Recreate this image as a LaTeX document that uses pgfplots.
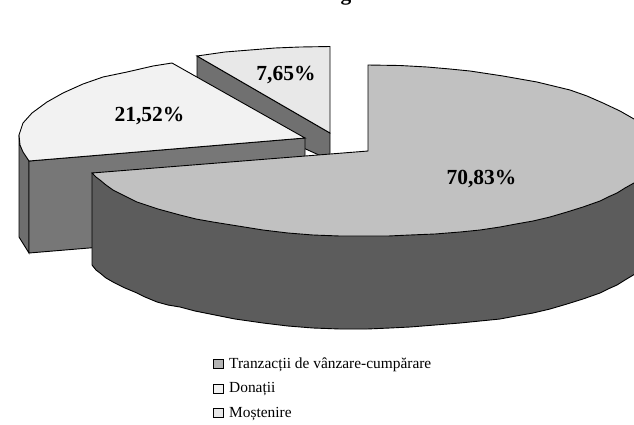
\documentclass[border=0pt]{standalone}
\usepackage{fontspec}
\setmainfont{Liberation Serif}
\usepackage{pgfplots}
\pgfplotsset{compat=1.18}
\definecolor{bigtop}{HTML}{C1C1C1}
\definecolor{bigside}{HTML}{5C5C5C}
\definecolor{dontop}{HTML}{F2F2F2}
\definecolor{donside}{HTML}{777777}
\definecolor{donouter}{HTML}{6E6E6E}
\definecolor{mostop}{HTML}{E8E8E8}
\definecolor{mosside}{HTML}{707070}
\definecolor{swa}{HTML}{B4B4B4}
\begin{document}
\begin{tikzpicture}
\begin{axis}[
  scale only axis, width=634pt, height=424pt,
  xmin=0, xmax=634, ymin=0, ymax=424, y dir=reverse,
  hide axis,
  legend cell align=left,
  legend style={at={(axis cs:213,357.5)}, anchor=north west, draw=none, fill=none,
    font=\fontsize{15.4}{17}\selectfont, row sep=12.8pt, column sep=6pt, inner sep=0pt, outer sep=0pt,
    nodes={inner sep=0pt, outer sep=0pt}},
  legend image code/.code={\draw[#1, line width=0.7pt] (0pt,-4.5pt) rectangle (9.5pt,4.5pt);},
  every axis plot/.append style={draw=black, line width=0.9pt, line join=miter},
]
\addlegendimage{fill=swa}
\addlegendentry{Tranzacții de vânzare-cumpărare}
\addlegendimage{fill=dontop}
\addlegendentry{Donații}
\addlegendimage{fill=mostop}
\addlegendentry{Moștenire}
% Mostenire
\addplot[fill=mosside, forget plot] coordinates {(197,56)(330,133)(330,160)(197,100)} -- cycle;
\addplot[fill=mostop, forget plot] coordinates {(197,56)(225,52)(250,50)(275,48)(300,47)(330,46.5)(330,133)} -- cycle;
% Donatii
\addplot[fill=donouter, forget plot] coordinates {(29,161)(20,145)(19,135)(19,237)(29,253)} -- cycle;
\addplot[fill=donside, forget plot] coordinates {(29,161)(305,138)(305,230)(29,253)} -- cycle;
\addplot[fill=dontop, forget plot] coordinates {(29,161)(23,152)(20,145)(19,135)(23,123)(32,113)(47,102)(63,93)(83,84)(103,77)(127,72)(153,66)(172,63)(305,138)} -- cycle;
% Tranzactii
\addplot[fill=bigside, forget plot] coordinates {(92,173)(92,265)(96,270)(100,273)(106,278)(113,282)(125,288)(137,293)(145,297)(157,302)(168,305)(180,307)(195,311)(210,314)(235,319)(263,323)(288,326)(313,328)(340,329)(367,329)(390,328)(410,327)(435,325)(460,323)(480,321)(500,319)(516,316)(533,313)(550,309)(567,304)(583,299)(600,293)(608,289)(617,285)(625,280)(640,271)(640,180)(367,180)} -- cycle;
\addplot[fill=bigtop, forget plot] coordinates {(368,65)(400,65.5)(427,67)(450,69)(470,71)(503,76)(537,82)(570,90)(587,96)(603,103)(620,111)(634,119)(645,127)(645,177)(634,183)(625,188)(617,193)(608,197)(600,201)(583,207)(567,212)(550,217)(533,221)(516,224)(500,227)(480,230)(460,232)(435,234)(410,235)(388,236)(367,236)(340,236)(313,235)(288,233)(263,230)(238,226)(213,222)(196,219)(180,215)(158,209)(137,202)(125,196)(113,190)(106,185)(100,180)(96,177)(92,173)(368,151)} -- cycle;
\node[font=\bfseries\fontsize{21.5}{24}\selectfont] at (axis cs:481.5,179.5) {70,83\%};
\node[font=\bfseries\fontsize{21.5}{24}\selectfont] at (axis cs:149.5,116) {21,52\%};
\node[font=\bfseries\fontsize{21.5}{24}\selectfont] at (axis cs:286,75) {7,65\%};
\node[font=\bfseries\fontsize{21.5}{24}\selectfont, anchor=base] at (axis cs:346,0) {g};
\end{axis}
\pgfresetboundingbox
\path[use as bounding box] (0,0) rectangle (634pt,424pt);
\end{tikzpicture}
\end{document}
